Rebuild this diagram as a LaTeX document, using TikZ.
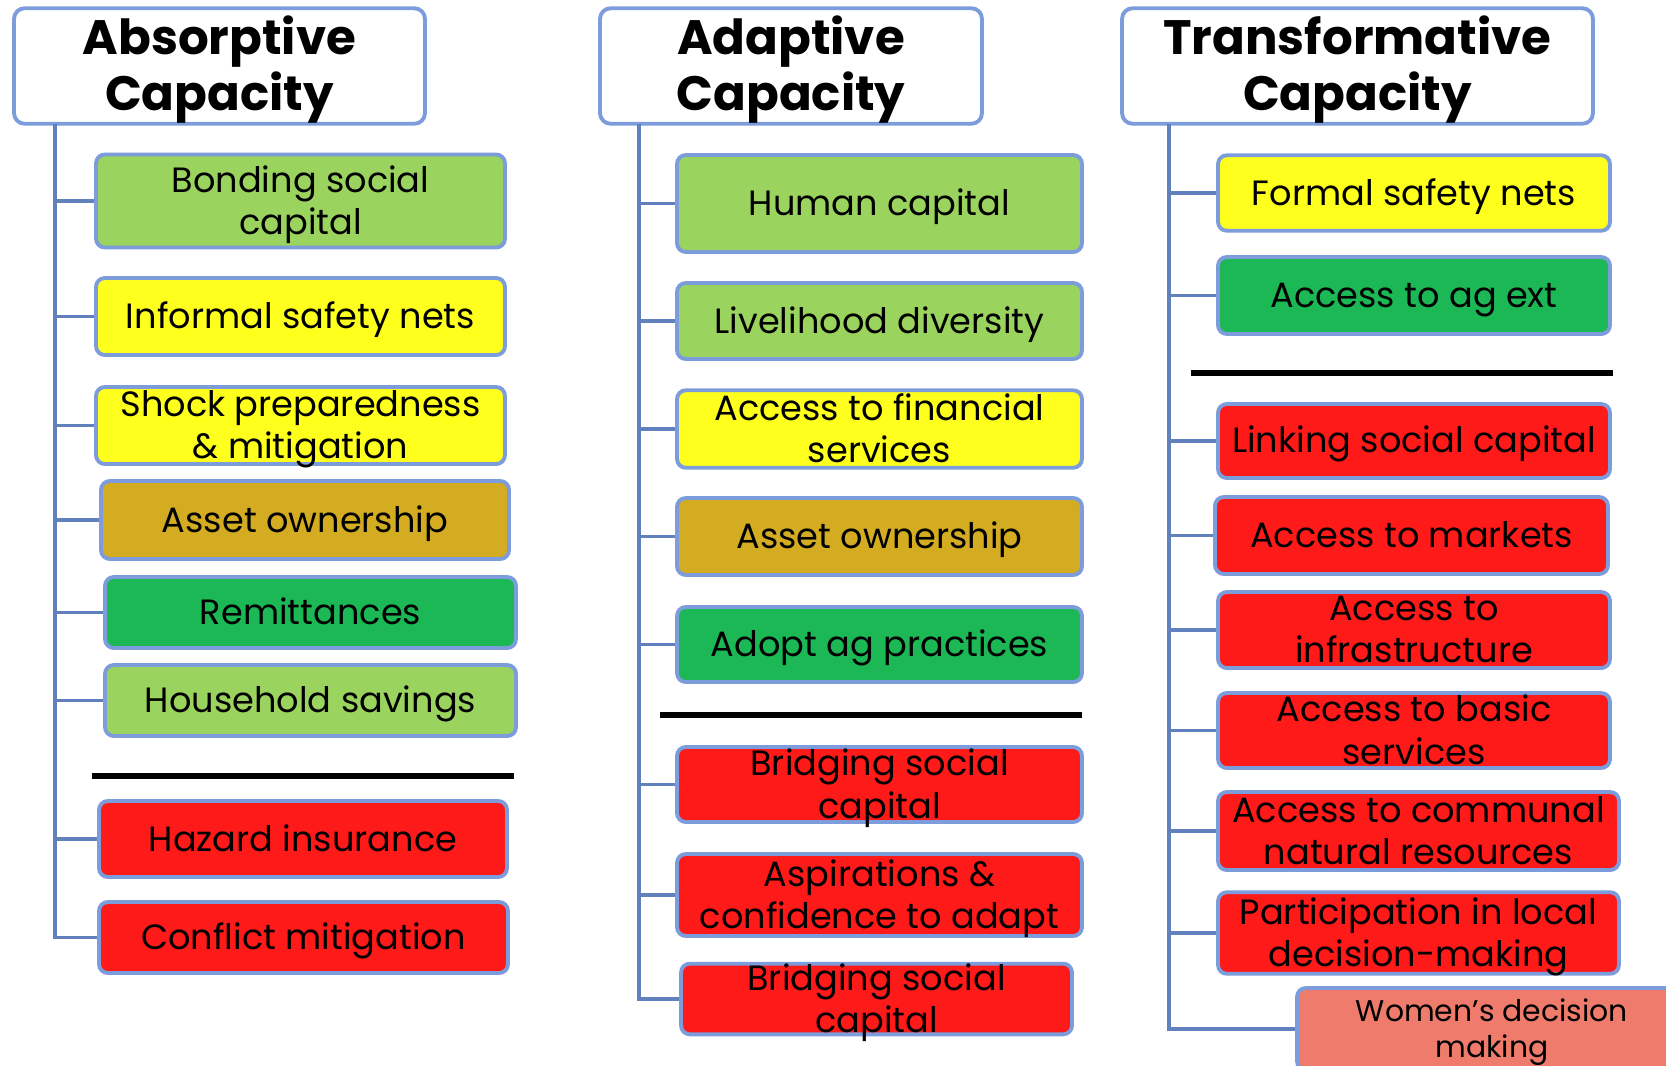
\documentclass[tikz,border=0pt]{standalone}
\usepackage{fontspec}
\setmainfont{Poppins}
\usepackage{xcolor}
\definecolor{boxline}{HTML}{7C9CDB}
\definecolor{trunk}{HTML}{6080BE}
\definecolor{lgreen}{HTML}{9BD35F}
\definecolor{dgreen}{HTML}{1CB855}
\definecolor{yel}{HTML}{FFFF1E}
\definecolor{gold}{HTML}{D4AC21}
\definecolor{red1}{HTML}{FF1A1A}
\definecolor{salmon}{HTML}{EE7B6C}

\begin{document}
\begin{tikzpicture}[x=0.02cm, y=-0.02cm,
  struts/.style = {execute at begin node={\rule{0pt}{0.95em}}, execute at end node={\rule[-0.25em]{0pt}{0pt}}},
  twoline/.style = {text depth=#1}, twoline/.default=1pt,
  head/.style = {draw=boxline, line width=2.2pt, rounded corners=6pt, fill=white, align=center, inner sep=0pt,
    struts, twoline=3.3pt, font=\fontsize{27.5}{32}\selectfont\bfseries},
  box/.style = {draw=boxline, line width=2.2pt, rounded corners=5pt, align=center, inner sep=0pt,
    struts, font=\fontsize{20}{24}\selectfont},
  link/.style = {draw=trunk, line width=2.2pt},
  sep/.style = {line width=3.2pt, black}]
  \useasboundingbox (0,0) rectangle (1666,1065);

  \node[head, minimum width=8.22cm, minimum height=2.31cm] (h1) at (219.5,66) {Absorptive\\Capacity};
  \node[head, minimum width=7.64cm, minimum height=2.31cm] (h2) at (791,66) {Adaptive\\Capacity};
  \node[head, minimum width=9.42cm, minimum height=2.31cm] (h3) at (1357.5,66) {Transformative\\Capacity};

  \coordinate (t1) at (55,124);
  \coordinate (t2) at (639,124);
  \coordinate (t3) at (1169,124);

  % absorptive
  \node[box, twoline, fill=lgreen, minimum width=8.18cm, minimum height=1.86cm] (a1) at (300.5,201) {Bonding social\\capital};
  \node[box, fill=yel, minimum width=8.18cm, minimum height=1.54cm] (a2) at (300.5,316.5) {Informal safety nets};
  \node[box, twoline, fill=yel, minimum width=8.18cm, minimum height=1.54cm] (a3) at (300.5,425.5) {Shock preparedness\\\& mitigation};
  \node[box, fill=gold, minimum width=8.16cm, minimum height=1.56cm] (a4) at (305,520) {Asset ownership};
  \node[box, fill=dgreen, minimum width=8.22cm, minimum height=1.42cm] (a5) at (310.5,612.5) {Remittances};
  \node[box, fill=lgreen, minimum width=8.22cm, minimum height=1.42cm] (a6) at (310.5,700.5) {Household savings};
  \draw[sep] (92,776) -- (514,776);
  \node[box, fill=red1, minimum width=8.16cm, minimum height=1.52cm] (a7) at (303,839) {Hazard insurance};
  \node[box, fill=red1, minimum width=8.18cm, minimum height=1.42cm] (a8) at (303.5,937.5) {Conflict mitigation};

  % adaptive
  \node[box, fill=lgreen, minimum width=8.1cm, minimum height=1.94cm] (b1) at (879.5,203.5) {Human capital};
  \node[box, fill=lgreen, minimum width=8.1cm, minimum height=1.52cm] (b2) at (879.5,321) {Livelihood diversity};
  \node[box, twoline, fill=yel, minimum width=8.1cm, minimum height=1.55cm] (b3) at (879.5,429) {Access to financial\\services};
  \node[box, fill=gold, minimum width=8.1cm, minimum height=1.54cm] (b4) at (879.5,536.5) {Asset ownership};
  \node[box, fill=dgreen, minimum width=8.1cm, minimum height=1.5cm] (b5) at (879.5,644.5) {Adopt ag practices};
  \draw[sep] (660,715) -- (1082,715);
  \node[box, twoline, fill=red1, minimum width=8.1cm, minimum height=1.5cm] (b6) at (879.5,784.5) {Bridging social\\capital};
  \node[box, twoline, fill=red1, minimum width=8.1cm, minimum height=1.64cm] (b7) at (879.5,895) {Aspirations \&\\confidence to adapt};
  \node[box, twoline, fill=red1, minimum width=7.82cm, minimum height=1.4cm] (b8) at (876.5,999) {Bridging social\\capital};

  % transformative
  \node[box, fill=yel, minimum width=7.84cm, minimum height=1.51cm] (c1) at (1414,193) {Formal safety nets};
  \node[box, fill=dgreen, minimum width=7.84cm, minimum height=1.54cm] (c2) at (1414,295.5) {Access to ag ext};
  \draw[sep] (1191,373) -- (1613,373);
  \node[box, fill=red1, minimum width=7.84cm, minimum height=1.48cm] (c3) at (1414,441) {Linking social capital};
  \node[box, fill=red1, minimum width=7.86cm, minimum height=1.54cm] (c4) at (1411.5,535.5) {Access to markets};
  \node[box, twoline, fill=red1, minimum width=7.84cm, minimum height=1.52cm] (c5) at (1414,630) {Access to\\infrastructure};
  \node[box, twoline, fill=red1, minimum width=7.84cm, minimum height=1.5cm] (c6) at (1414,730.5) {Access to basic\\services};
  \node[box, twoline, fill=red1, minimum width=8.02cm, minimum height=1.56cm] (c7) at (1418.5,831) {Access to communal\\natural resources};
  \node[box, twoline, fill=red1, minimum width=8.02cm, minimum height=1.63cm] (c8) at (1418.5,933) {Participation in local\\decision-making};
  \node[box, twoline, fill=salmon, minimum width=7.8cm, minimum height=1.64cm, font=\fontsize{17}{20}\selectfont] (c9) at (1492,1029) {Women’s decision\\making};

  \draw[link] (t1) |- (a1.west);
  \draw[link] (t1) |- (a2.west);
  \draw[link] (t1) |- (a3.west);
  \draw[link] (t1) |- (a4.west);
  \draw[link] (t1) |- (a5.west);
  \draw[link] (t1) |- (a6.west);
  \draw[link] (t1) |- (a7.west);
  \draw[link] (t1) |- (a8.west);

  \draw[link] (t2) |- (b1.west);
  \draw[link] (t2) |- (b2.west);
  \draw[link] (t2) |- (b3.west);
  \draw[link] (t2) |- (b4.west);
  \draw[link] (t2) |- (b5.west);
  \draw[link] (t2) |- (b6.west);
  \draw[link] (t2) |- (b7.west);
  \draw[link] (t2) |- (b8.west);

  \draw[link] (t3) |- (c1.west);
  \draw[link] (t3) |- (c2.west);
  \draw[link] (t3) |- (c3.west);
  \draw[link] (t3) |- (c4.west);
  \draw[link] (t3) |- (c5.west);
  \draw[link] (t3) |- (c6.west);
  \draw[link] (t3) |- (c7.west);
  \draw[link] (t3) |- (c8.west);
  \draw[link] (t3) |- (c9.west);
\end{tikzpicture}
\end{document}
